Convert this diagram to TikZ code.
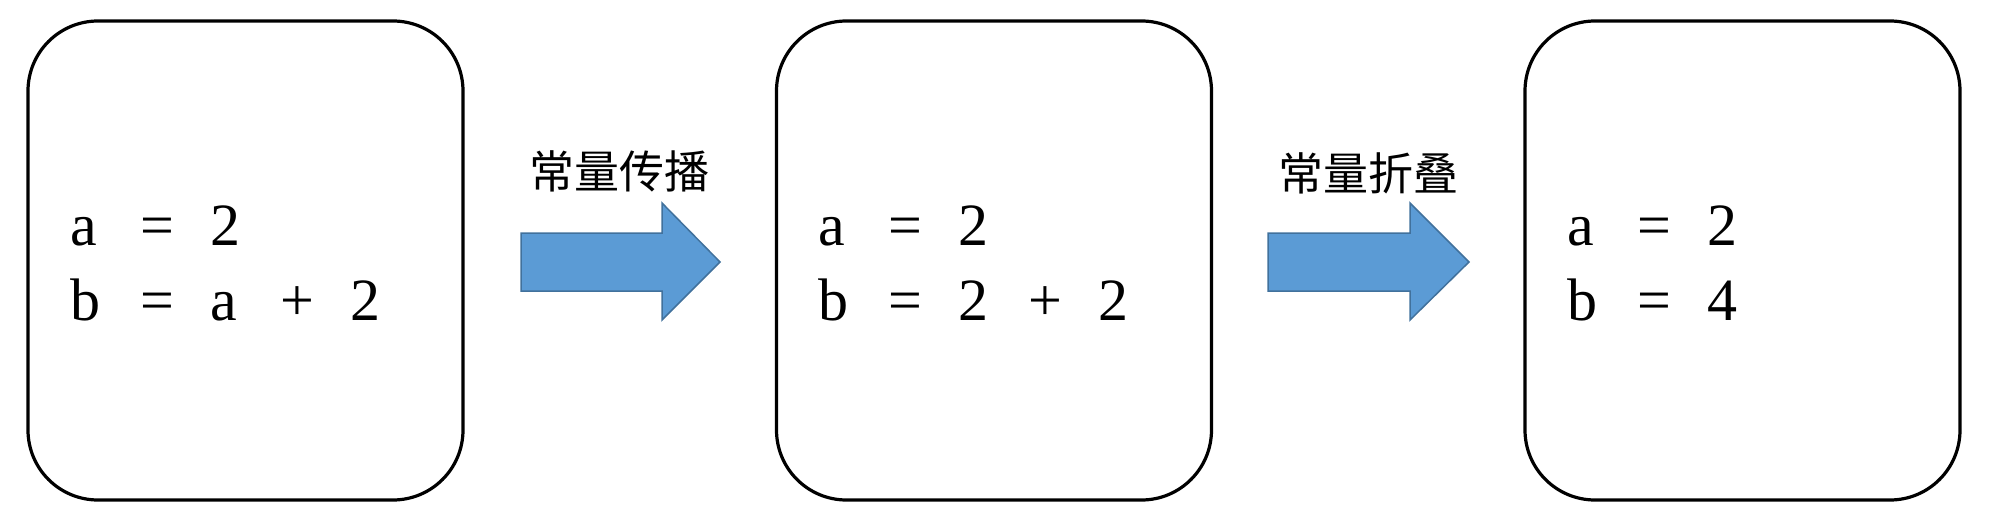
\documentclass[tikz,border=0pt]{standalone}
\usepackage{fontspec}
\usetikzlibrary{calc}
\setmainfont{Liberation Serif}
\newfontfamily\codefont{Liberation Serif}
\newfontfamily\cjkfont{Noto Sans CJK SC}
\definecolor{arrowfill}{HTML}{5B9BD5}
\definecolor{arrowline}{HTML}{41719C}
\newcommand{\tok}[1]{\makebox[70pt][l]{#1}}
\begin{document}
\begin{tikzpicture}[x=1pt,y=-1pt,
  codebox/.style={draw=black,line width=3.2pt,rounded corners=70pt,minimum width=435pt,minimum height=479pt,inner sep=0pt},
  codeline/.style={anchor=base west,inner sep=0pt,font=\codefont\fontsize{60}{70}\selectfont},
  fatarrow/.style={fill=arrowfill,draw=arrowline,line width=1.5pt,line join=miter},
  steplabel/.style={inner sep=0pt,font=\cjkfont\fontsize{45}{50}\selectfont}]
\useasboundingbox (0,0) rectangle (1990,516);
% boxes
\node[codebox] (b1) at (245.5,260.5) {};
\node[codebox] (b2) at (994,260.5) {};
\node[codebox] (b3) at (1742.5,260.5) {};
% code text
\node[codeline] (b1l1) at (70,245) {\tok{a}\tok{=}\tok{2}};
\node[codeline] (b1l2) at (70,320) {\tok{b}\tok{=}\tok{a}\tok{+}\tok{2}};
\node[codeline] (b2l1) at (818,245) {\tok{a}\tok{=}\tok{2}};
\node[codeline] (b2l2) at (818,320) {\tok{b}\tok{=}\tok{2}\tok{+}\tok{2}};
\node[codeline] (b3l1) at (1567,245) {\tok{a}\tok{=}\tok{2}};
\node[codeline] (b3l2) at (1567,320) {\tok{b}\tok{=}\tok{4}};
% arrows
\coordinate (a1s) at (521,262);
\coordinate (a1t) at (720,262);
\coordinate (a2s) at (1268,262);
\coordinate (a2t) at (1469,262);
\draw[fatarrow] ($(a1s)+(0,-29)$) -- ($(a1t)+(-58,-29)$) -- ($(a1t)+(-58,-59)$) -- (a1t) -- ($(a1t)+(-58,58)$) -- ($(a1t)+(-58,29)$) -- ($(a1s)+(0,29)$) -- cycle;
\draw[fatarrow] ($(a2s)+(0,-29)$) -- ($(a2t)+(-59,-29)$) -- ($(a2t)+(-59,-59)$) -- (a2t) -- ($(a2t)+(-59,58)$) -- ($(a2t)+(-59,29)$) -- ($(a2s)+(0,29)$) -- cycle;
% labels
\node[steplabel] (l1) at (619,171) {常量传播};
\node[steplabel] (l2) at (1368,173) {常量折叠};
\end{tikzpicture}
\end{document}
